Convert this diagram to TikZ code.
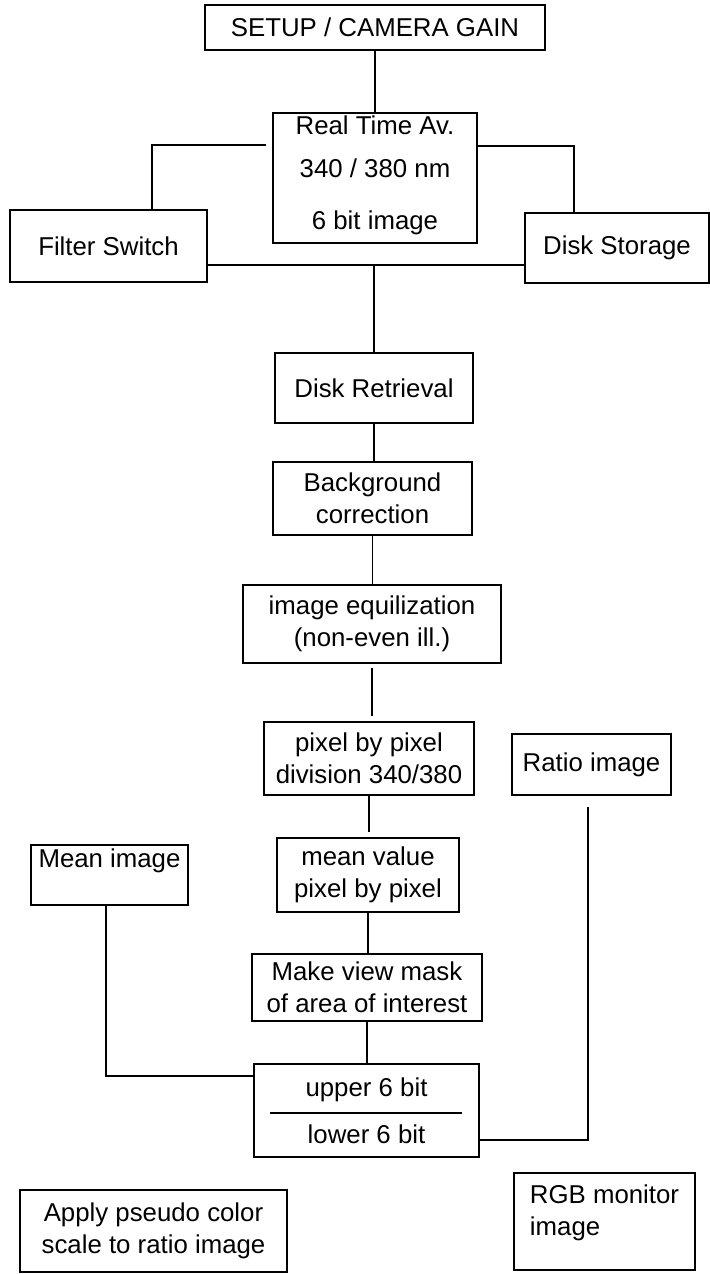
\documentclass[tikz,border=0pt]{standalone}
\usepackage{fontspec}
\setmainfont{Liberation Sans}
\tikzset{
  stage/.style={draw, line width=0.8pt, inner sep=0pt, align=center,
    font=\fontsize{12.9pt}{16pt}\selectfont},
  link/.style={line width=0.8pt}
}
\begin{document}
\begin{tikzpicture}[x=0.5pt,y=0.5pt]
                \useasboundingbox (0,0) rectangle (710,-1274);
                \node [stage, minimum width=170pt, minimum height=22.5pt] (setup) at (375,-27.5) {SETUP / CAMERA GAIN};
                \node [stage, minimum width=102pt, minimum height=65pt] (rta) at (375,-178) {Real Time Av.\\[5.5pt]340 / 380 nm\\[10pt]6 bit image\rule[-5.7pt]{0pt}{0pt}};
                \node [stage, minimum width=98.5pt, minimum height=36pt] (filter) at (108.5,-246) {Filter Switch};
                \node [stage, minimum width=92pt, minimum height=35pt] (storage) at (617,-248) {Disk Storage};
                \node [stage, minimum width=99pt, minimum height=35pt] (retrieval) at (374,-388) {Disk Retrieval};
                \node [stage, minimum width=99.5pt, minimum height=36.5pt] (background) at (372.5,-498.5) {Background\\correction};
                \node [stage, minimum width=129pt, minimum height=39pt] (equal) at (372,-624) {image equilization\\(non-even ill.)};
                \node [stage, minimum width=105pt, minimum height=36.5pt] (division) at (369,-758.5) {pixel by pixel\\division 340/380};
                \node [stage, minimum width=79.5pt, minimum height=30.5pt] (ratio) at (591.5,-764.5) {Ratio image};
                \node [stage, minimum width=78.5pt, minimum height=30pt] (meanimg) at (109.5,-875) {Mean image\rule[-17.1pt]{0pt}{0pt}};
                \node [stage, minimum width=91pt, minimum height=37pt] (meanval) at (368,-875) {mean value\\pixel by pixel};
                \node [stage, minimum width=115pt, minimum height=33.5pt] (mask) at (367,-987.5) {Make view mask\\of area of interest};
                \node [stage, minimum width=112.5pt, minimum height=46.5pt] (bits) at (366.5,-1110.5) {upper 6 bit\\[7.5pt]lower 6 bit};
                \node [stage, minimum width=133.5pt, minimum height=41pt] (pseudo) at (153.5,-1231) {Apply pseudo color\\scale to ratio image};
                \node [stage, align=left, minimum width=90.5pt, minimum height=48.5pt] (rgb) at (604.5,-1221.5) {RGB monitor\\image\rule[-11.7pt]{0pt}{0pt}};
                \draw [link] (rta.north) -- (rta.north |- setup.south);
                \draw [link, shorten <=3pt] ([shift={(0,33)}]rta.west) -| ([shift={(43.5,0)}]filter.north);
                \draw [link] ([shift={(0,32)}]rta.east) -| ([shift={(-43,0)}]storage.north);
                \coordinate (bus) at ([shift={(0,-19)}]filter.east);
                \draw [link] (bus) -- (bus -| storage.west);
                \draw [link] (bus -| retrieval.north) -- (retrieval.north);
                \draw [link] (retrieval.south) -- (retrieval.south |- background.north);
                \draw [link] (background.south) -- (background.south |- equal.north);
                \draw [link, shorten <=2pt, shorten >=2.5pt] (equal.south) -- (equal.south |- division.north);
                \draw [link, shorten >=2.5pt] (division.south) -- (division.south |- meanval.north);
                \draw [link] (meanval.south) -- (meanval.south |- mask.north);
                \draw [link] (mask.south) -- (mask.south |- bits.north);
                \draw [link] ([shift={(-3.5,0)}]meanimg.south) |- ([shift={(0,34.5)}]bits.west);
                \draw [link, shorten <=5.5pt] ([shift={(-3.5,0)}]ratio.south) |- ([shift={(0,-29.5)}]bits.east);
                \draw [link] ([shift={(17,-2.5)}]bits.west) -- ([shift={(-18,-2.5)}]bits.east);
            \end{tikzpicture}
\end{document}
